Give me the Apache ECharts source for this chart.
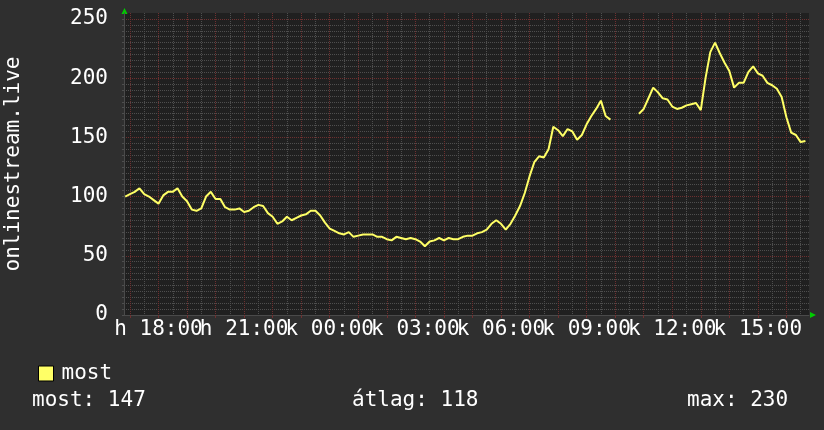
<!DOCTYPE html>
<html><head><meta charset="utf-8">
<script src="https://cdn.jsdelivr.net/npm/echarts@6/dist/echarts.min.js"></script>
<style>html,body{margin:0;padding:0;background:#2f2f2f}#c{width:824px;height:430px}</style>
</head><body><div id="c"></div>
<script>
// ---- data ----
const seriesName = 'most';
const yAxisName = 'onlinestream.live';
// time slots of 2.5 minutes from Monday 16:47:30 to Tuesday 16:47:30 (24 h window)
const slotStart = '2024-01-01T16:47:30';
const slotMinutes = 2.5;
const slotCount = 577;
// samples every 10 minutes, first sample at 16:50 (slot 1)
const sampleFirstSlot = 1;
const sampleEverySlots = 4;
const values = [
  100,102,104,107,102,100,97,94,101,104,
  104,107,100,96,89,88,90,100,104,98,
  98,91,89,89,90,87,88,91,93,92,
  86,83,77,79,83,80,82,84,85,88,
  88,84,78,73,71,69,68,70,66,67,
  68,68,68,66,66,64,63,66,65,64,
  65,64,62,58,62,63,65,63,65,64,
  64,66,67,67,69,70,72,77,80,77,
  72,77,84,92,103,117,129,134,133,140,
  159,156,151,157,155,148,152,161,168,174,
  181,168,165,null,null,null,null,null,170,174,
  183,192,188,183,182,176,174,175,177,178,
  179,173,200,222,230,221,213,206,192,196,
  196,205,210,204,202,196,194,191,184,167,
  154,152,146,147,null
];
const xTickLabels = ['h 18:00','h 21:00','k 00:00','k 03:00','k 06:00','k 09:00','k 12:00','k 15:00'];
const yTickLabels = [0, 50, 100, 150, 200, 250];
const statTexts = ['most: 147', 'átlag: 118', 'max: 230'];

// ---- build ----
const FONT = 'DejaVu Sans Mono';
const RED = '#6e3030';
const GRAY = '#4e4e4e';
const TXT = '#ffffff';

const s0 = new Date(slotStart).getTime();
const categories = [];
for (let k = 0; k < slotCount; k++) {
  const d = new Date(s0 + k * slotMinutes * 60000);
  categories.push(d.toISOString());
}
function slotHM(idx) {
  const d = new Date(s0 + idx * slotMinutes * 60000);
  return [d.getHours(), d.getMinutes(), d.getSeconds()];
}
const isHour = (idx) => { const t = slotHM(idx); return t[1] === 0 && t[2] === 0; };
const isHalf = (idx) => { const t = slotHM(idx); return t[1] === 30 && t[2] === 0; };
const isLabel = (idx) => { const t = slotHM(idx); return t[1] === 0 && t[2] === 0 && t[0] % 3 === 0; };
let firstLabelIdx = -1;
for (let k = 0; k < slotCount; k++) { if (isLabel(k)) { firstLabelIdx = k; break; } }
const labelNo = (idx) => Math.round((idx - firstLabelIdx) / 72);
// labels split over two stacked axes so neighbours never collide
const isLabelA = (idx) => isLabel(idx) && labelNo(idx) % 2 === 0;
const isLabelB = (idx) => isLabel(idx) && labelNo(idx) % 2 === 1;
const labelFmt = (v, i) => (isLabel(i) ? (xTickLabels[labelNo(i)] || '') : '');

const seriesData = values.map((v, i) => [sampleFirstSlot + i * sampleEverySlots, v]);

const chart = echarts.init(document.getElementById('c'), null, {renderer: 'canvas'});
const labelStyle = {
  color: TXT, fontFamily: FONT, fontSize: 21, margin: 4, hideOverlap: false,
  showMinLabel: true, showMaxLabel: true, formatter: labelFmt
};
chart.setOption({
  backgroundColor: '#2f2f2f',
  animation: false,
  grid: {left: 124, right: 15, top: 13, bottom: 115, show: true, backgroundColor: '#202020', borderWidth: 0,
         containLabel: false, outerBoundsMode: 'none'},
  legend: {
    left: 33, top: 358, itemWidth: 15, itemHeight: 15, icon: 'rect',
    data: [seriesName],
    itemStyle: {borderColor: '#000', borderWidth: 1},
    textStyle: {color: TXT, fontFamily: FONT, fontSize: 21, padding: [0, 0, 0, 3]}
  },
  xAxis: [
    {
      type: 'category', data: categories, boundaryGap: false, position: 'bottom', offset: 0,
      axisLine: {show: true, lineStyle: {color: '#4a4a4a', width: 1}},
      axisTick: {show: true, length: 3, interval: (i) => isHour(i), lineStyle: {color: RED}},
      axisLabel: Object.assign({interval: (i) => isLabelA(i)}, labelStyle),
      splitLine: {show: true, interval: (i) => isHour(i), lineStyle: {color: RED, type: [1, 1], width: 1}}
    },
    {
      type: 'category', data: categories, boundaryGap: false, position: 'bottom', offset: 0,
      axisLine: {show: false}, axisTick: {show: false},
      axisLabel: Object.assign({interval: (i) => isLabelB(i)}, labelStyle),
      splitLine: {show: true, interval: (i) => isHalf(i), lineStyle: {color: GRAY, type: [1, 1], width: 1}}
    }
  ],
  yAxis: {
    type: 'value', min: 0, max: 255, interval: 5,
    name: yAxisName, nameLocation: 'middle', nameGap: 100, nameRotate: 90,
    nameTextStyle: {color: TXT, fontFamily: FONT, fontSize: 21},
    axisLine: {show: true, lineStyle: {color: '#4a4a4a', width: 1}},
    axisTick: {show: true, length: 2, lineStyle: {color: GRAY}},
    axisLabel: {
      color: TXT, fontFamily: FONT, fontSize: 21, margin: 16,
      showMaxLabel: false,
      formatter: v => (yTickLabels.indexOf(v) >= 0 ? String(v) : '')
    },
    splitLine: {show: true, showMaxLine: false,
      lineStyle: {color: [RED, GRAY, GRAY, GRAY, GRAY, GRAY, GRAY, GRAY, GRAY, GRAY], type: [1, 1], width: 1}}
  },
  series: [{
    name: seriesName, type: 'line', data: seriesData, xAxisIndex: 0,
    showSymbol: false, connectNulls: false,
    lineStyle: {color: '#ffff66', width: 2},
    itemStyle: {color: '#ffff66'}
  }],
  graphic: [
    {type: 'polygon', shape: {points: [[121.5, 14], [127.5, 14], [124.5, 8]]}, style: {fill: '#00cc00'}},
    {type: 'polygon', shape: {points: [[810, 312], [810, 318], [816, 315]]}, style: {fill: '#00cc00'}},
    {type: 'text', left: 32, top: 390, style: {text: statTexts[0], fill: TXT, font: '21px "' + FONT + '"'}},
    {type: 'text', left: 352, top: 390, style: {text: statTexts[1], fill: TXT, font: '21px "' + FONT + '"'}},
    {type: 'text', left: 687, top: 390, style: {text: statTexts[2], fill: TXT, font: '21px "' + FONT + '"'}}
  ]
});
</script></body></html>
